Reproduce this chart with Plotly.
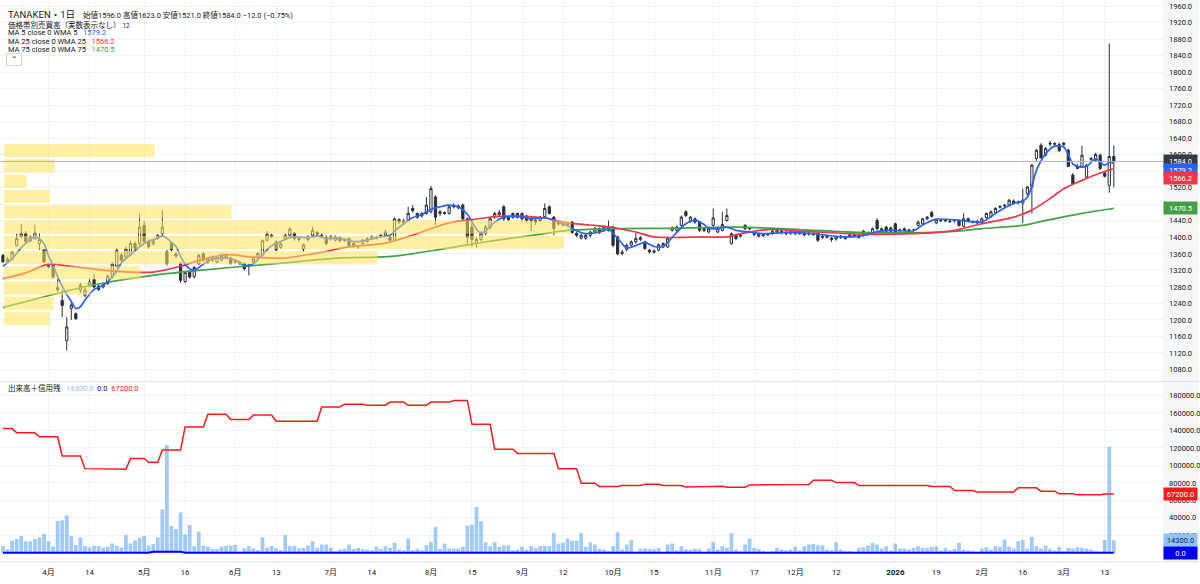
"""TANAKEN daily chart: candles with WMA lines, volume profile, volume and margin balance."""

import pandas as pd
import plotly.graph_objects as go

# Tokyo Stock Exchange closed days inside the window
jp_holidays = [
    "2025-03-20", "2025-04-29", "2025-05-05", "2025-05-06", "2025-07-21",
    "2025-08-11", "2025-09-15", "2025-09-23", "2025-10-13", "2025-11-03",
    "2025-11-24", "2025-12-31", "2026-01-01", "2026-01-02", "2026-01-12",
    "2026-02-11", "2026-02-23",
]
days = [
    d.strftime("%Y-%m-%d")
    for d in pd.bdate_range("2025-03-17", "2026-03-17")
    if d.strftime("%Y-%m-%d") not in jp_holidays
]

tick_days = [
    "2025-04-01", "2025-04-14", "2025-05-01", "2025-05-16", "2025-06-02", "2025-06-13",
    "2025-07-01", "2025-07-14", "2025-08-01", "2025-08-15", "2025-09-01", "2025-09-12",
    "2025-10-01", "2025-10-15", "2025-11-04", "2025-11-17", "2025-12-01", "2025-12-12",
    "2026-01-05", "2026-01-19", "2026-02-02", "2026-02-16", "2026-03-02", "2026-03-13",
]
tick_text = [
    "4月", "14", "5月", "16", "6月", "13", "7月", "14", "8月", "15", "9月", "12",
    "10月", "15", "11月", "17", "12月", "12", "<b>2026</b>", "19", "2月", "16", "3月", "13",
]
volume_ticks = [20000, 40000, 60000, 80000, 100000, 120000, 140000, 160000, 180000]

opens = [
    1356, 1341, 1348, 1381, 1402, 1409, 1392, 1397, 1385, 1369,
    1332, 1332, 1278, 1247, 1150, 1228, 1215, 1272, 1260, 1285,
    1298, 1282, 1280, 1288, 1305, 1330, 1357, 1352, 1357, 1385,
    1385, 1429, 1390, 1385, 1398, 1409, 1365, 1385, 1360, 1336,
    1293, 1316, 1305, 1336, 1360, 1340, 1345, 1340, 1345, 1350,
    1350, 1340, 1340, 1336, 1330, 1340, 1350, 1357, 1393, 1405,
    1389, 1376, 1397, 1405, 1410, 1397, 1372, 1395, 1405, 1412,
    1405, 1401, 1398, 1393, 1400, 1395, 1397, 1385, 1380, 1385,
    1390, 1398, 1400, 1402, 1405, 1401, 1393, 1443, 1435, 1441,
    1470, 1458, 1452, 1458, 1462, 1498, 1458, 1460, 1458, 1478,
    1472, 1478, 1445, 1425, 1385, 1395, 1410, 1425, 1450, 1455,
    1474, 1448, 1458, 1458, 1458, 1452, 1445, 1437, 1441, 1450,
    1474, 1449, 1437, 1430, 1433, 1437, 1410, 1398, 1398, 1405,
    1413, 1421, 1417, 1417, 1425, 1401, 1361, 1371, 1381, 1389,
    1395, 1389, 1369, 1364, 1369, 1377, 1377, 1417, 1417, 1429,
    1462, 1439, 1445, 1437, 1417, 1413, 1429, 1413, 1417, 1441,
    1385, 1405, 1403, 1429, 1423, 1407, 1403, 1404, 1406, 1410,
    1413, 1415, 1412, 1410, 1413, 1409, 1410, 1408, 1409, 1409,
    1400, 1400, 1398, 1396, 1400, 1401, 1403, 1406, 1404, 1415,
    1407, 1411, 1441, 1413, 1425, 1423, 1433, 1416, 1421, 1417,
    1418, 1429, 1433, 1445, 1460, 1435, 1440, 1442, 1439, 1440,
    1441, 1427, 1445, 1438, 1435, 1435, 1448, 1450, 1460, 1473,
    1476, 1478, 1488, 1484, 1483, 1506, 1522, 1591, 1623, 1599,
    1626, 1627, 1625, 1625, 1611, 1551, 1572, 1571, 1546, 1589,
    1587, 1599, 1556, 1526, 1596,
]
highs = [
    1360, 1352, 1368, 1409, 1433, 1415, 1405, 1431, 1410, 1372,
    1336, 1335, 1300, 1272, 1207, 1245, 1218, 1290, 1278, 1300,
    1312, 1286, 1290, 1310, 1340, 1375, 1362, 1378, 1392, 1390,
    1458, 1440, 1395, 1396, 1408, 1466, 1370, 1390, 1364, 1340,
    1318, 1320, 1330, 1360, 1364, 1351, 1356, 1355, 1360, 1360,
    1353, 1347, 1343, 1339, 1336, 1351, 1364, 1395, 1415, 1409,
    1393, 1388, 1410, 1425, 1413, 1400, 1385, 1405, 1425, 1415,
    1410, 1405, 1406, 1405, 1402, 1398, 1400, 1388, 1382, 1396,
    1400, 1405, 1404, 1408, 1418, 1404, 1448, 1446, 1445, 1474,
    1478, 1460, 1462, 1498, 1525, 1502, 1466, 1463, 1478, 1482,
    1480, 1482, 1448, 1440, 1400, 1415, 1430, 1448, 1462, 1466,
    1478, 1452, 1460, 1460, 1460, 1455, 1449, 1445, 1452, 1482,
    1478, 1452, 1440, 1436, 1436, 1440, 1414, 1410, 1409, 1416,
    1425, 1424, 1429, 1441, 1428, 1404, 1370, 1385, 1393, 1410,
    1403, 1392, 1372, 1370, 1385, 1388, 1402, 1426, 1429, 1453,
    1466, 1452, 1448, 1440, 1424, 1425, 1470, 1424, 1462, 1470,
    1412, 1408, 1408, 1432, 1425, 1413, 1410, 1408, 1411, 1418,
    1420, 1418, 1415, 1416, 1416, 1414, 1413, 1413, 1412, 1412,
    1405, 1406, 1401, 1404, 1406, 1404, 1408, 1409, 1407, 1418,
    1414, 1424, 1446, 1424, 1428, 1426, 1436, 1421, 1424, 1421,
    1421, 1441, 1447, 1452, 1464, 1445, 1444, 1445, 1443, 1444,
    1444, 1459, 1448, 1441, 1442, 1448, 1460, 1465, 1473, 1478,
    1480, 1493, 1492, 1489, 1518, 1525, 1578, 1614, 1628, 1619,
    1634, 1631, 1630, 1631, 1615, 1556, 1578, 1622, 1578, 1595,
    1605, 1603, 1560, 1870, 1623,
]
lows = [
    1338, 1336, 1345, 1378, 1398, 1386, 1388, 1394, 1370, 1338,
    1325, 1300, 1268, 1207, 1126, 1200, 1200, 1265, 1255, 1280,
    1276, 1270, 1276, 1285, 1300, 1327, 1338, 1348, 1354, 1370,
    1380, 1385, 1372, 1380, 1394, 1405, 1332, 1366, 1350, 1290,
    1290, 1300, 1300, 1333, 1342, 1336, 1341, 1337, 1342, 1347,
    1334, 1336, 1333, 1320, 1308, 1337, 1347, 1354, 1390, 1398,
    1366, 1372, 1394, 1400, 1392, 1390, 1365, 1390, 1400, 1405,
    1398, 1380, 1392, 1390, 1388, 1388, 1378, 1376, 1372, 1382,
    1387, 1395, 1395, 1398, 1402, 1390, 1390, 1432, 1430, 1438,
    1460, 1445, 1448, 1455, 1458, 1430, 1452, 1455, 1455, 1470,
    1468, 1440, 1385, 1378, 1375, 1390, 1405, 1420, 1445, 1450,
    1440, 1440, 1445, 1445, 1440, 1436, 1415, 1430, 1437, 1448,
    1455, 1405, 1428, 1426, 1425, 1409, 1400, 1395, 1394, 1400,
    1410, 1408, 1413, 1414, 1376, 1357, 1356, 1366, 1377, 1385,
    1391, 1370, 1361, 1361, 1366, 1374, 1374, 1414, 1414, 1426,
    1449, 1435, 1433, 1413, 1413, 1410, 1426, 1410, 1414, 1438,
    1382, 1393, 1400, 1418, 1417, 1403, 1400, 1401, 1403, 1406,
    1409, 1407, 1405, 1406, 1405, 1406, 1402, 1404, 1403, 1389,
    1396, 1397, 1389, 1392, 1396, 1394, 1399, 1400, 1397, 1402,
    1404, 1408, 1417, 1410, 1412, 1412, 1408, 1412, 1414, 1413,
    1413, 1426, 1430, 1442, 1448, 1432, 1437, 1438, 1435, 1436,
    1426, 1424, 1436, 1434, 1432, 1432, 1445, 1447, 1457, 1470,
    1472, 1475, 1480, 1480, 1435, 1500, 1458, 1585, 1590, 1596,
    1620, 1621, 1607, 1620, 1570, 1528, 1565, 1568, 1543, 1586,
    1584, 1563, 1545, 1508, 1521,
]
closes = [
    1341, 1347, 1364, 1397, 1409, 1390, 1401, 1411, 1395, 1341,
    1328, 1304, 1273, 1235, 1183, 1236, 1203, 1284, 1272, 1292,
    1280, 1274, 1285, 1306, 1335, 1368, 1345, 1372, 1385, 1373,
    1425, 1390, 1377, 1392, 1405, 1425, 1337, 1370, 1355, 1296,
    1315, 1304, 1327, 1356, 1345, 1348, 1352, 1352, 1357, 1357,
    1337, 1344, 1337, 1324, 1333, 1348, 1361, 1392, 1408, 1402,
    1370, 1384, 1405, 1420, 1397, 1395, 1382, 1402, 1417, 1409,
    1402, 1385, 1402, 1401, 1392, 1393, 1381, 1381, 1377, 1393,
    1397, 1402, 1398, 1405, 1413, 1393, 1445, 1438, 1440, 1458,
    1465, 1449, 1458, 1478, 1518, 1449, 1462, 1458, 1474, 1474,
    1476, 1445, 1400, 1395, 1395, 1410, 1425, 1445, 1458, 1460,
    1445, 1443, 1449, 1449, 1445, 1441, 1440, 1441, 1449, 1470,
    1458, 1421, 1433, 1433, 1430, 1412, 1405, 1405, 1405, 1413,
    1421, 1412, 1425, 1425, 1381, 1360, 1364, 1381, 1389, 1397,
    1399, 1373, 1365, 1367, 1382, 1385, 1398, 1423, 1425, 1449,
    1453, 1449, 1437, 1417, 1421, 1421, 1447, 1421, 1431, 1453,
    1409, 1397, 1405, 1421, 1421, 1410, 1407, 1406, 1408, 1415,
    1417, 1411, 1409, 1413, 1409, 1411, 1406, 1410, 1407, 1393,
    1402, 1403, 1395, 1401, 1403, 1398, 1406, 1404, 1400, 1405,
    1410, 1421, 1421, 1421, 1415, 1415, 1411, 1418, 1417, 1418,
    1417, 1437, 1445, 1449, 1451, 1443, 1441, 1440, 1438, 1441,
    1429, 1445, 1439, 1437, 1439, 1445, 1458, 1462, 1470, 1475,
    1478, 1490, 1483, 1486, 1490, 1522, 1575, 1611, 1593, 1615,
    1628, 1626, 1610, 1628, 1572, 1530, 1567, 1599, 1575, 1591,
    1601, 1567, 1548, 1596, 1584,
]

# weighted moving averages (bar index, price)
ma5_idx = [0, 2, 4, 6, 7, 8, 9, 10, 11, 12, 13, 14, 15, 16, 17, 18, 19, 20, 22, 23, 24, 25, 26,
           28, 30, 32, 34, 35, 36, 37, 38, 39, 40, 41, 42, 44, 46, 49, 51, 53, 55, 57, 59, 61,
           63, 65, 67, 69, 71, 73, 75, 77, 79, 81, 83, 85, 86, 88, 90, 92, 94, 96, 98, 100,
           102, 104, 105, 106, 108, 110, 112, 114, 116, 119, 121, 124, 126, 128, 131, 133,
           134, 136, 137, 139, 141, 143, 145, 146, 148, 150, 152, 154, 155, 157, 159, 161,
           164, 167, 172, 177, 181, 185, 188, 190, 192, 195, 200, 202, 205, 210, 213, 215,
           217, 219, 222, 224, 225, 226, 227, 228, 229, 231, 233, 234, 235, 236, 238, 240,
           242, 243, 244]
ma5_val = [1330, 1348, 1375, 1395, 1401, 1397, 1385, 1355, 1333, 1305, 1282, 1262, 1245, 1228,
           1232, 1248, 1262, 1274, 1284, 1292, 1305, 1318, 1338, 1358, 1377, 1391, 1398, 1403,
           1398, 1388, 1378, 1354, 1335, 1324, 1320, 1335, 1347, 1350, 1345, 1332, 1336, 1358,
           1380, 1390, 1400, 1401, 1399, 1403, 1397, 1398, 1395, 1390, 1391, 1396, 1401, 1405,
           1415, 1433, 1448, 1455, 1468, 1474, 1478, 1474, 1456, 1420, 1410, 1416, 1437, 1449,
           1451, 1450, 1445, 1448, 1441, 1428, 1416, 1409, 1413, 1420, 1410, 1385, 1374, 1380,
           1388, 1378, 1378, 1388, 1412, 1433, 1441, 1431, 1422, 1421, 1425, 1417, 1413, 1409,
           1412, 1410, 1405, 1401, 1403, 1407, 1414, 1417, 1416, 1430, 1444, 1441, 1438, 1437,
           1450, 1465, 1482, 1488, 1497, 1525, 1563, 1585, 1603, 1621, 1619, 1601, 1578, 1572,
           1572, 1590, 1575, 1582, 1579.2]

ma25_idx = [0, 5, 10, 14, 21, 28, 33, 39, 43, 49, 55, 62, 69, 76, 84, 91, 95, 98, 103, 109,
            114, 119, 124, 129, 134, 139, 143, 154, 159, 162, 168, 175, 181, 188, 200, 208,
            215, 222, 226, 230, 233, 237, 241, 244]
ma25_val = [1300, 1314, 1335, 1331, 1322, 1316, 1316, 1330, 1344, 1358, 1352, 1350, 1362, 1377,
            1386, 1409, 1425, 1435, 1443, 1451, 1451, 1447, 1435, 1430, 1424, 1413, 1401, 1401,
            1401, 1409, 1419, 1415, 1412, 1408, 1409, 1415, 1433, 1449, 1466, 1494, 1518, 1538,
            1556, 1566.2]

ma75_idx = [0, 7, 14, 21, 29, 36, 43, 53, 62, 69, 76, 82, 87, 95, 102, 109, 117, 124, 135,
            146, 161, 175, 188, 200, 208, 215, 224, 230, 237, 244]
ma75_val = [1230, 1250, 1270, 1287, 1302, 1312, 1320, 1330, 1338, 1346, 1351, 1352, 1356, 1369,
            1382, 1394, 1406, 1417, 1421, 1422, 1425, 1419, 1412, 1411, 1414, 1421, 1429, 1443,
            1458, 1470.5]

# volume profile (12 rows, relative volume per price row)
profile_price = [1203, 1240, 1277, 1314, 1351, 1388, 1425, 1462, 1499, 1536, 1573, 1610]
profile_volume = [46, 50, 87, 137, 374, 561, 568, 228, 46, 23, 51, 151]

volume = [
    7750, 4300, 13800, 15800, 19200, 13200, 13200, 15800, 17700, 21800,
    13200, 7000, 36300, 37100, 42800, 19200, 8900, 17700, 7750, 6200,
    8100, 7750, 5850, 7000, 10800, 8100, 5850, 20300, 10800, 14200,
    17300, 19200, 8100, 10000, 17700, 49700, 123200, 30600, 27200, 46200,
    21100, 31800, 7750, 24100, 8100, 7000, 4300, 4300, 7000, 8100,
    8500, 8900, 1300, 5100, 7750, 5100, 3200, 17700, 5850, 7750,
    5100, 3200, 20300, 7750, 8100, 5100, 5700, 8300, 13300, 5700,
    9500, 9500, 5700, 1900, 3800, 4500, 9500, 4500, 5700, 4500,
    3800, 3000, 6800, 4500, 7600, 5700, 11400, 3800, 2700, 16300,
    3000, 4500, 2700, 8700, 12100, 29600, 4500, 10600, 4900, 4900,
    4900, 6800, 31100, 32200, 52300, 36000, 12100, 7600, 12100, 6800,
    8300, 8700, 3000, 3800, 6800, 3800, 7600, 5700, 7600, 7600,
    7600, 22700, 10600, 11400, 16300, 14000, 14000, 22700, 6800, 12100,
    9500, 4500, 3800, 1900, 7600, 23500, 3800, 9500, 14400, 1100,
    4500, 4900, 4500, 3800, 5700, 800, 9500, 10600, 3000, 7600,
    3800, 3800, 4500, 4500, 800, 4900, 12500, 3800, 7600, 5700,
    22700, 3800, 1900, 9500, 16300, 5700, 4500, 1900, 1100, 1900,
    5700, 3800, 2700, 3800, 6800, 2700, 7600, 9500, 10200, 8300,
    8700, 3800, 3000, 12100, 3800, 1900, 1900, 1100, 5700, 6400,
    8300, 11400, 9500, 4900, 7600, 2700, 10600, 4900, 4900, 3800,
    5700, 7600, 5700, 5700, 6800, 7600, 2700, 5700, 2700, 4500,
    11400, 3800, 2700, 1900, 1100, 4500, 6400, 3800, 7600, 6800,
    15200, 6800, 4900, 13300, 14400, 4900, 18200, 7600, 4900, 8300,
    4500, 2700, 6800, 1900, 5700, 4900, 6400, 5700, 4900, 3800,
    1900, 1100, 14500, 121300, 14300,
]

# weekly margin balances and how many sessions each figure holds
long_margin = [142100, 137200, 132700, 110700, 96300, 95500, 108000, 103500, 117500, 144000,
               158400, 152400, 157700, 150500, 166800, 169800, 168700, 172400, 168700, 172400,
               174300, 147000, 118600, 113700, 96300, 79600, 75800, 76900, 78500, 76900,
               75400, 76100, 75000, 77700, 78100, 83000, 80300, 76900, 77700, 76900,
               75800, 71300, 69700, 74300, 70500, 67500, 66300, 67200]
long_margin_days = [3, 5, 5, 5, 5, 5, 4, 3, 5, 5, 5, 5, 5, 10, 5, 5, 5, 4, 5, 5,
                    4, 5, 5, 9, 5, 4, 5, 5, 4, 5, 6, 3, 5, 5, 9, 5, 5, 4, 8, 4,
                    5, 5, 9, 5, 4, 4, 6, 3]
short_margin = [0, 1200, 0]
short_margin_days = [33, 7, 205]

long_line = [v for v, n in zip(long_margin, long_margin_days) for _ in range(n)]
short_line = [v for v, n in zip(short_margin, short_margin_days) for _ in range(n)]

FONT = "Roboto, 'Noto Sans CJK JP', sans-serif"
TEXT = "#131722"
GRID = "#f0f3fa"
BLUE, RED, GREEN = "#2962ff", "#f23645", "#43a047"
PLOT_H = 562  # px height of the plotting area


def py(px):
    """Paper y for a pixel row measured from the top."""
    return 1 - px / PLOT_H


fig = go.Figure()

fig.add_trace(go.Candlestick(
    x=days, open=opens, high=highs, low=lows, close=closes,
    xaxis="x2", yaxis="y",
    increasing=dict(line=dict(color="#2a2e39", width=1), fillcolor="#ffffff"),
    decreasing=dict(line=dict(color="#2a2e39", width=1), fillcolor="#2a2e39"),
    whiskerwidth=0, showlegend=False, hoverinfo="skip",
))
for idx, val, color in [(ma75_idx, ma75_val, GREEN), (ma25_idx, ma25_val, RED),
                        (ma5_idx, ma5_val, BLUE)]:
    fig.add_trace(go.Scatter(
        x=[days[i] for i in idx], y=val, xaxis="x2", yaxis="y", mode="lines",
        line=dict(color=color, width=1.7, shape="spline", smoothing=0.8),
        showlegend=False, hoverinfo="skip",
    ))

fig.add_trace(go.Bar(
    x=profile_volume, y=profile_price, orientation="h", width=32,
    xaxis="x3", yaxis="y", marker=dict(color="rgba(255,228,90,0.55)", line_width=0),
    showlegend=False, hoverinfo="skip",
))

fig.add_trace(go.Bar(
    x=days, y=volume, xaxis="x", yaxis="y2",
    marker=dict(color="rgba(66,150,240,0.5)", line_width=0),
    showlegend=False, hoverinfo="skip",
))
fig.add_trace(go.Scatter(
    x=days, y=long_line, xaxis="x", yaxis="y2", mode="lines",
    line=dict(color="#ff1a1a", width=1.5), showlegend=False, hoverinfo="skip",
))
fig.add_trace(go.Scatter(
    x=days, y=short_line, xaxis="x", yaxis="y2", mode="lines",
    line=dict(color="#0000ee", width=2), showlegend=False, hoverinfo="skip",
))

x_common = dict(
    type="category", categoryorder="array", categoryarray=days,
    range=[-0.66, 254.8], tickvals=tick_days, ticktext=tick_text,
    showgrid=True, gridcolor=GRID, gridwidth=1, zeroline=False,
    ticks="", rangeslider=dict(visible=False),
)
y_common = dict(
    side="right", showgrid=True, gridcolor=GRID, zeroline=False, ticks="",
    tickformat=".1f", tickfont=dict(size=7.5, color=TEXT), ticklabelstandoff=5,
)

fig.update_layout(
    width=1200, height=584,
    margin=dict(l=0, r=35, t=0, b=22),
    paper_bgcolor="white", plot_bgcolor="white",
    font=dict(family=FONT, size=7.5, color=TEXT),
    bargap=0.18,
    xaxis=dict(**x_common, anchor="y2", domain=[0, 1],
               tickfont=dict(size=8, color=TEXT), ticklabelstandoff=4),
    xaxis2=dict(**x_common, anchor="y", matches="x", showticklabels=False),
    xaxis3=dict(overlaying="x2", range=[-4, 1161], visible=False, anchor="y"),
    yaxis=dict(**y_common, domain=[0.322, 1], range=[1052, 1975], dtick=40, tick0=0,
               anchor="x2"),
    yaxis2=dict(**y_common, domain=[0, 0.32], range=[-10500, 195200],
                tickvals=volume_ticks, anchor="x"),
)

shapes = [
    # price scale background
    dict(type="rect", xref="paper", yref="paper", x0=1, x1=1.031, y0=0, y1=1,
         fillcolor="#f5f6f8", line_width=0, layer="below"),
    # pane separator and bottom border
    dict(type="line", xref="paper", yref="paper", x0=0, x1=1.031, y0=py(381.5), y1=py(381.5),
         line=dict(color="#e0e3eb", width=1)),
    dict(type="line", xref="paper", yref="paper", x0=0, x1=1.031, y0=0, y1=0,
         line=dict(color="#e0e3eb", width=1)),
    # last price line
    dict(type="line", xref="paper", yref="y", x0=0, x1=1, y0=closes[-1], y1=closes[-1],
         line=dict(color="#b2b5be", width=1)),
]
fig.update_layout(shapes=shapes)

annotations = []


def header(text, px_y, size=7.5):
    annotations.append(dict(
        xref="paper", yref="paper", x=6 / 1165, y=py(px_y), xanchor="left", yanchor="middle",
        text=text, showarrow=False, font=dict(size=size, color=TEXT),
    ))


header("TANAKEN・1日 <span style='font-size:7.5px'>&nbsp;&nbsp;&nbsp;始値1596.0 高値1623.0 "
       "安値1521.0 終値1584.0 −12.0 (−0.75%)</span>", 14.5, size=9.5)
header("価格帯別売買高（実数表示なし） <span style='font-size:6.5px'>12</span>", 25)
header(f"MA 5 close 0 WMA 5 &nbsp;&nbsp;<span style='color:{BLUE}'>1579.2</span>", 33)
header(f"MA 25 close 0 WMA 25 &nbsp;&nbsp;<span style='color:{RED}'>1566.2</span>", 41)
header(f"MA 75 close 0 WMA 75 &nbsp;&nbsp;<span style='color:{GREEN}'>1470.5</span>", 49)
header("出来高＋信用残 &nbsp;&nbsp;<span style='color:#90c2f9'>14300.0</span> "
       "&nbsp;<span style='color:#0000ee'>0.0</span> "
       "&nbsp;<span style='color:#ff1a1a'>67200.0</span>", 388)
annotations.append(dict(
    xref="paper", yref="paper", x=6 / 1165, y=py(59), xanchor="left", yanchor="middle",
    text="⌃", showarrow=False, font=dict(size=8, color=TEXT), width=12, height=9,
    bordercolor="#d1d4dc", borderwidth=1, bgcolor="white",
))


def tag(value, axis, bg, fg="white", shift=0):
    annotations.append(dict(
        xref="paper", yref=axis, x=1, y=value, xanchor="left", yanchor="middle",
        text=f"{value:.1f}", showarrow=False, font=dict(size=7.5, color=fg),
        bgcolor=bg, width=31, height=10, yshift=shift,
    ))


tag(closes[-1], "y", "#363a45")
tag(ma5_val[-1], "y", BLUE, shift=-7)
tag(ma25_val[-1], "y", RED, shift=-9.5)
tag(ma75_val[-1], "y", GREEN)
tag(long_line[-1], "y2", "#ff1a1a")
tag(volume[-1], "y2", "#90c2f9", fg="#0d1b4a")
tag(short_line[-1], "y2", "#0000ee")

fig.update_layout(annotations=annotations)

fig.write_html(
    "out.html",
    config={"displayModeBar": False},
    post_script="document.body.style.margin='0';",
)
